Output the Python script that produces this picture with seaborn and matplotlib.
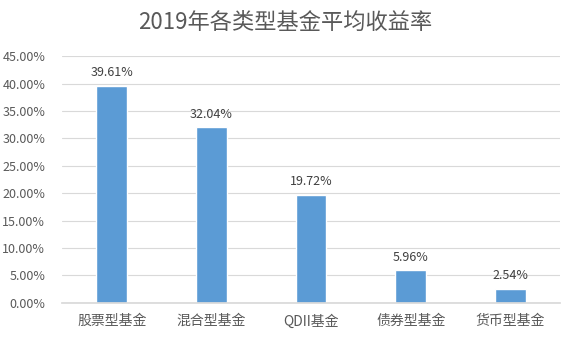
import matplotlib
matplotlib.use("Agg")
import matplotlib.pyplot as plt
import seaborn as sns
import pandas as pd
import numpy as np

categories = ["股票型基金", "混合型基金", "QDII基金", "债券型基金", "货币型基金"]
values = [39.61, 32.04, 19.72, 5.96, 2.54]
yticks = [0, 5, 10, 15, 20, 25, 30, 35, 40, 45]

sns.set_theme(style="white")
plt.rcParams['font.family'] = ['Noto Sans CJK SC', 'DejaVu Sans']

df = pd.DataFrame({"cat": categories, "val": values})

fig = plt.figure(figsize=(5.67, 3.38), dpi=100)
ax = fig.add_axes([0.109, 0.104, 0.879, 0.730])
sns.barplot(data=df, x="cat", y="val", color="#5B9BD5", width=0.31, ax=ax, saturation=1)

ax.set_ylim(0, 45)
ax.set_xlim(-0.5, 4.5)
ax.set_yticks(yticks)
ax.set_yticklabels([f"{v:.2f}%" for v in yticks])
ax.yaxis.grid(True, color="#d9d9d9", linewidth=0.8)
ax.set_axisbelow(True)
for s in ["top", "right", "left"]:
    ax.spines[s].set_visible(False)
ax.spines["bottom"].set_color("#d9d9d9")
ax.tick_params(axis="both", length=0, colors="#595959", labelsize=9)
ax.tick_params(axis="y", pad=12)
ax.tick_params(axis="x", pad=8, labelsize=10)
ax.set_xlabel("")
ax.set_ylabel("")

for i, v in enumerate(values):
    ax.text(i, v + 1.2, f"{v:.2f}%", ha="center", va="bottom", fontsize=9, color="#404040")

fig.text(0.503, 0.935, "2019年各类型基金平均收益率", ha="center", va="center", fontsize=16, color="#595959")

fig.savefig("out.png", dpi=100)
